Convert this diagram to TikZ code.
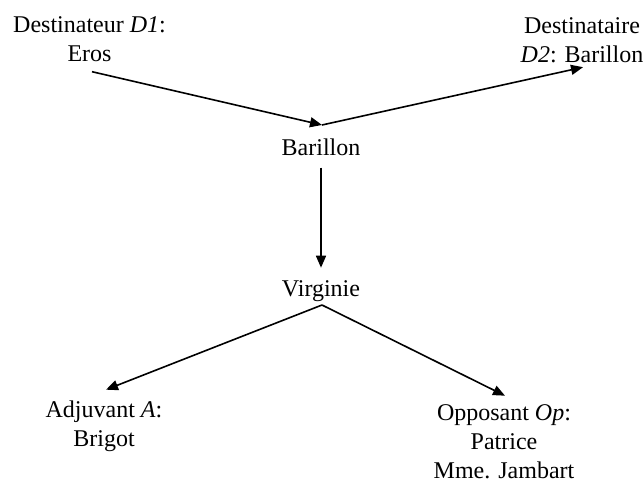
\documentclass[tikz,border=0pt]{standalone}
\usepackage{fontspec}
\setmainfont{Liberation Serif}
\usetikzlibrary{arrows.meta}
\tikzset{
  lbl/.style={inner sep=0pt, outer sep=0pt, anchor=base, font=\fontsize{24}{29}\selectfont},
  arr/.style={line width=1.6pt, -{Triangle[length=12pt,width=10pt]}}
}
\newcommand{\blk}[1]{\begin{tabular}[t]{@{}c@{}}#1\end{tabular}}
\begin{document}
\begin{tikzpicture}[x=1pt,y=-1pt]
\useasboundingbox (0,0) rectangle (643,482);
\node[lbl] (d1) at (89.5,32) {\blk{Destinateur \textit{D1}:\\Eros}};
\node[lbl] (d2) at (582,33) {\blk{Destinataire\\\textit{D2}: Barillon}};
\node[lbl] (bar) at (321,155) {\blk{Barillon}};
\node[lbl] (vir) at (321,296) {\blk{Virginie}};
\node[lbl] (adj) at (104,417) {\blk{Adjuvant \textit{A}:\\Brigot}};
\node[lbl] (opp) at (504,420) {\blk{Opposant \textit{Op}:\\Patrice\\Mme. Jambart}};
\coordinate (j1) at (322,125);
\coordinate (j2) at (322,305);
\draw[arr] ([shift={(2.5pt,-2pt)}]d1.south) -- (j1);
\draw[arr] (j1) -- ([shift={(1pt,3.5pt)}]d2.south);
\draw[arr] ([yshift=-4pt]bar.south) -- ([yshift=8pt]vir.north);
\draw[arr] (j2) -- ([shift={(2pt,7pt)}]adj.north);
\draw[arr] (j2) -- ([shift={(1pt,4pt)}]opp.north);
\end{tikzpicture}
\end{document}
